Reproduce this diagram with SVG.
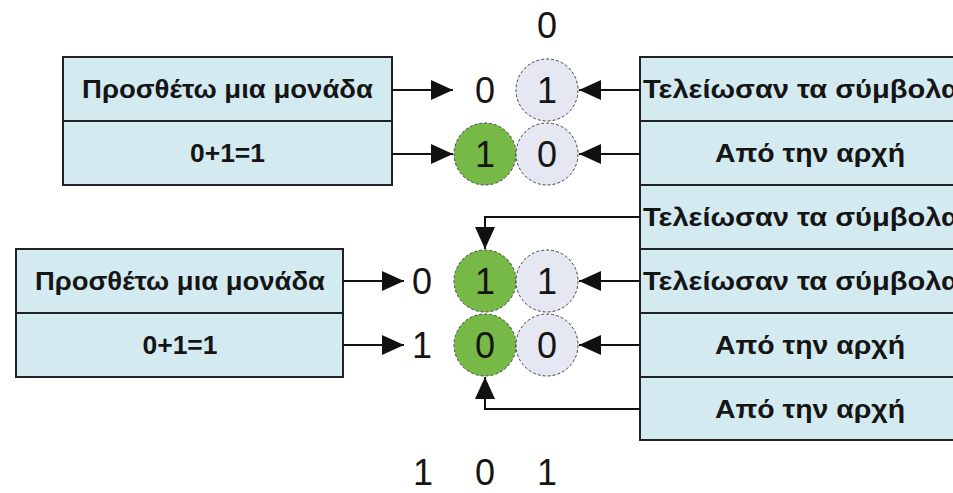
<svg xmlns="http://www.w3.org/2000/svg" width="953" height="493" viewBox="0 0 953 493">
<style>
.box{fill:#d4eaf1;stroke:#222;stroke-width:2}
.div{stroke:#222;stroke-width:2}
.lbl{font-family:"Liberation Sans",Arial,sans-serif;font-weight:bold;font-size:25px;fill:#151515}
.dig{font-family:"Liberation Sans",Arial,sans-serif;font-size:36px;fill:#151515;text-anchor:middle}
.cg{fill:#77b946;stroke:#444;stroke-width:1;stroke-dasharray:3 2}
.cl{fill:#e5e8f3;stroke:#444;stroke-width:1;stroke-dasharray:3 2}
.con{fill:none;stroke:#111;stroke-width:2;marker-end:url(#ah)}
</style>
<defs>
<marker id="ah" markerUnits="userSpaceOnUse" markerWidth="22" markerHeight="20" refX="22" refY="10" orient="auto">
<path d="M0,0 L22,10 L0,20 z" fill="#111"/>
</marker>
</defs>
<rect width="953" height="493" fill="#fff"/>

<g id="box-top-left">
<rect class="box" x="63" y="57" width="329" height="128"/>
<line class="div" x1="63" y1="121" x2="392" y2="121"/>
<text class="lbl" x="227.5" y="98" text-anchor="middle" textLength="291" lengthAdjust="spacingAndGlyphs">Προσθέτω μια μονάδα</text>
<text class="lbl" x="227.5" y="162" text-anchor="middle" textLength="75" lengthAdjust="spacingAndGlyphs">0+1=1</text>
</g>

<g id="box-bottom-left">
<rect class="box" x="16" y="249" width="327" height="128"/>
<line class="div" x1="16" y1="313" x2="343" y2="313"/>
<text class="lbl" x="180" y="290" text-anchor="middle" textLength="290" lengthAdjust="spacingAndGlyphs">Προσθέτω μια μονάδα</text>
<text class="lbl" x="180" y="354" text-anchor="middle" textLength="75" lengthAdjust="spacingAndGlyphs">0+1=1</text>
</g>

<g id="box-right">
<rect class="box" x="640" y="57" width="340" height="383"/>
<line class="div" x1="640" y1="121" x2="980" y2="121"/>
<line class="div" x1="640" y1="185" x2="980" y2="185"/>
<line class="div" x1="640" y1="249" x2="980" y2="249"/>
<line class="div" x1="640" y1="313" x2="980" y2="313"/>
<line class="div" x1="640" y1="377" x2="980" y2="377"/>
<text class="lbl" x="643" y="98" textLength="316" lengthAdjust="spacingAndGlyphs">Τελείωσαν τα σύμβολα</text>
<text class="lbl" x="810" y="162" text-anchor="middle" textLength="190" lengthAdjust="spacingAndGlyphs">Από την αρχή</text>
<text class="lbl" x="643" y="226" textLength="316" lengthAdjust="spacingAndGlyphs">Τελείωσαν τα σύμβολα</text>
<text class="lbl" x="643" y="290" textLength="316" lengthAdjust="spacingAndGlyphs">Τελείωσαν τα σύμβολα</text>
<text class="lbl" x="810" y="354" text-anchor="middle" textLength="190" lengthAdjust="spacingAndGlyphs">Από την αρχή</text>
<text class="lbl" x="810" y="418" text-anchor="middle" textLength="190" lengthAdjust="spacingAndGlyphs">Από την αρχή</text>
</g>

<g id="digits-top">
<text class="dig" x="547" y="38">0</text>
<text class="dig" x="485" y="103">0</text>
<circle class="cl" cx="547" cy="90" r="31"/>
<text class="dig" x="547" y="103">1</text>
<circle class="cg" cx="485" cy="154" r="31"/>
<text class="dig" x="485" y="167">1</text>
<circle class="cl" cx="547" cy="154" r="31"/>
<text class="dig" x="547" y="167">0</text>
</g>

<g id="digits-bottom">
<text class="dig" x="422" y="294">0</text>
<circle class="cg" cx="485" cy="281" r="31"/>
<text class="dig" x="485" y="294">1</text>
<circle class="cl" cx="547" cy="281" r="31"/>
<text class="dig" x="547" y="294">1</text>
<text class="dig" x="422" y="358">1</text>
<circle class="cg" cx="485" cy="345" r="31"/>
<text class="dig" x="485" y="358">0</text>
<circle class="cl" cx="547" cy="345" r="31"/>
<text class="dig" x="547" y="358">0</text>
</g>

<g id="result">
<text class="dig" x="423" y="485">1</text>
<text class="dig" x="485" y="485">0</text>
<text class="dig" x="547" y="485">1</text>
</g>

<g id="connectors">
<path class="con" d="M392,90 H453"/>
<path class="con" d="M392,154 H453"/>
<path class="con" d="M640,90 H579"/>
<path class="con" d="M640,154 H579"/>
<path class="con" d="M640,217 H485 V249"/>
<path class="con" d="M343,281 H404"/>
<path class="con" d="M343,345 H404"/>
<path class="con" d="M640,281 H579"/>
<path class="con" d="M640,345 H579"/>
<path class="con" d="M640,409 H485 V377"/>
</g>
</svg>
